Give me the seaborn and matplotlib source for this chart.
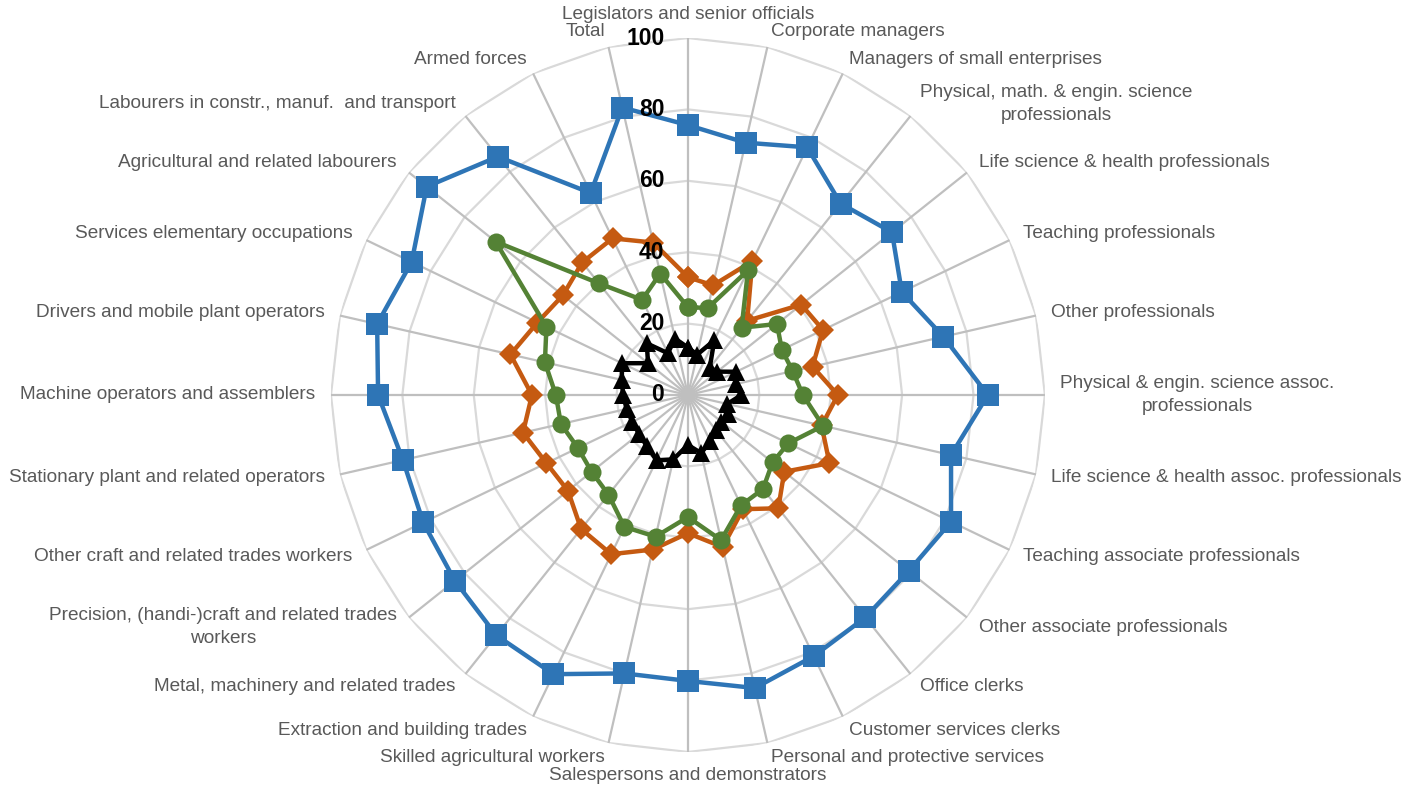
import numpy as np
import pandas as pd
import matplotlib
matplotlib.use('Agg')
import matplotlib.pyplot as plt
from matplotlib import font_manager
import seaborn as sns

# categories, clockwise from the top
categories = [
    "Legislators and senior officials",
    "Corporate managers",
    "Managers of small enterprises",
    "Physical, math. & engin. science\nprofessionals",
    "Life science & health professionals",
    "Teaching professionals",
    "Other professionals",
    "Physical & engin. science assoc.\nprofessionals",
    "Life science & health assoc. professionals",
    "Teaching associate professionals",
    "Other associate professionals",
    "Office clerks",
    "Customer services clerks",
    "Personal and protective services",
    "Salespersons and demonstrators",
    "Skilled agricultural workers",
    "Extraction and building trades",
    "Metal, machinery and related trades",
    "Precision, (handi-)craft and related trades\nworkers",
    "Other craft and related trades workers",
    "Stationary plant and related operators",
    "Machine operators and assemblers",
    "Drivers and mobile plant operators",
    "Services elementary occupations",
    "Agricultural and related labourers",
    "Labourers in constr., manuf.  and transport",
    "Armed forces",
    "Total",
]

series_blue = [75.6, 72.5, 77.0, 68.6, 73.1, 66.5, 73.4, 84.0, 75.6, 81.8, 79.1, 79.7, 81.2, 84.2,
               80.1, 80.0, 86.8, 86.1, 83.5, 82.3, 81.9, 86.8, 89.3, 85.9, 93.6, 85.4, 62.8, 82.6]
series_orange = [33.0, 31.5, 41.6, 26.6, 40.6, 42.0, 35.8, 42.0, 38.4, 44.0, 34.5, 40.6, 35.5, 43.7,
                 38.7, 44.4, 49.5, 48.0, 43.0, 44.0, 47.4, 43.7, 51.0, 46.8, 44.8, 47.5, 48.7, 43.8]
series_green = [24.6, 25.0, 38.8, 24.1, 31.9, 29.2, 30.1, 32.2, 38.8, 31.2, 30.3, 33.7, 34.3, 41.7,
                34.2, 40.7, 41.0, 35.7, 34.5, 34.2, 36.5, 37.0, 41.1, 44.0, 68.9, 40.0, 29.6, 34.9]
series_black = [13.3, 11.6, 17.0, 9.8, 10.5, 15.0, 13.8, 15.0, 11.3, 12.5, 12.0, 12.5, 14.4, 16.7,
                14.0, 18.5, 20.3, 18.4, 17.5, 17.3, 17.6, 18.2, 19.0, 20.5, 14.3, 18.5, 13.0, 16.2]

ring_ticks = [0, 20, 40, 60, 80, 100]

sns.set_theme(style='white')
installed = {f.name for f in font_manager.fontManager.ttflist}
if 'Liberation Sans Narrow' in installed:
    plt.rcParams['font.family'] = ['Liberation Sans Narrow', 'DejaVu Sans']
    lab_size, tick_size = 15.5, 18
else:
    plt.rcParams['font.family'] = ['Liberation Sans', 'DejaVu Sans']
    lab_size, tick_size = 13.7, 16.5

n = len(categories)
theta = np.linspace(0, 2 * np.pi, n, endpoint=False)
theta_closed = np.append(theta, 2 * np.pi)

fig = plt.figure(figsize=(14.18, 7.95), dpi=100)
ax = fig.add_axes([0.2334, 0.0541, 0.5035, 0.8981], projection='polar')
ax.set_theta_zero_location('N')
ax.set_theta_direction(-1)
ax.set_ylim(0, 100)
ax.grid(False)
ax.set_xticks([])
ax.set_yticks([])
ax.spines['polar'].set_visible(False)
ax.set_facecolor('white')

# polygon gridlines and spokes
for lvl in ring_ticks[1:]:
    ax.plot(theta_closed, [lvl] * (n + 1), color='#D9D9D9', lw=1.6, zorder=1)
for t in theta:
    ax.plot([t, t], [0, 100], color='#BFBFBF', lw=1.6, zorder=1)

styles = [
    (series_blue, '#2E75B6', 's', 16),
    (series_orange, '#C55A11', 'D', 11),
    (series_green, '#548235', 'o', 13),
    (series_black, '#000000', '^', 13),
]
for i, (vals, col, mk, ms) in enumerate(styles):
    df = pd.DataFrame({'theta': theta_closed, 'value': list(vals) + [vals[0]]})
    sns.lineplot(data=df, x='theta', y='value', ax=ax, color=col, lw=3.2,
                 marker=mk, markersize=ms, markeredgecolor=col, markeredgewidth=0,
                 errorbar=None, sort=False, zorder=3 + i, clip_on=False)
ax.set_xlabel('')
ax.set_ylabel('')

# category labels
for t, lab in zip(theta, categories):
    s, c = np.sin(t), np.cos(t)
    if abs(s) < 0.05:
        ha = 'center'
        va = 'bottom' if c > 0 else 'top'
    else:
        ha = 'left' if s > 0 else 'right'
        va = 'center'
    ax.text(t, 104.3, lab, ha=ha, va=va, fontsize=lab_size, color='#595959',
            multialignment='center', linespacing=1.5)

# ring value labels
for v in ring_ticks:
    ax.annotate(str(v), xy=(0, v), xytext=(-17, 0), textcoords='offset points',
                ha='right', va='center', fontsize=tick_size, fontweight='bold',
                color='black', zorder=10)

fig.savefig('out.png', dpi=100)
